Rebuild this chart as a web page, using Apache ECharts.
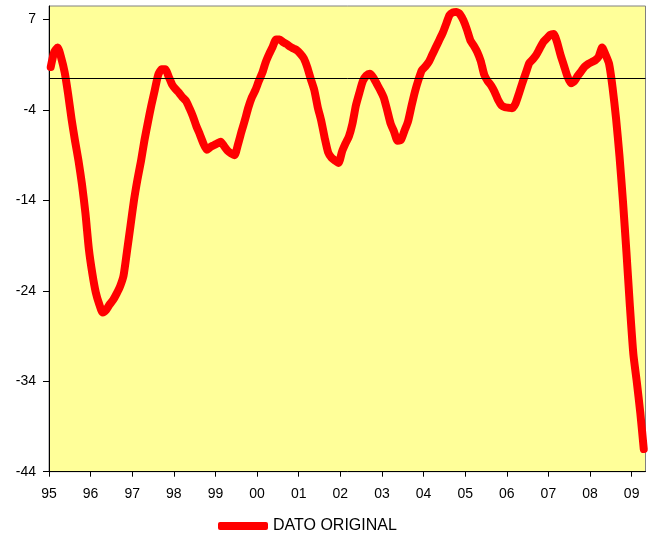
<!DOCTYPE html>
<html>
<head>
<meta charset="utf-8">
<script src="https://cdn.jsdelivr.net/npm/echarts@6/dist/echarts.min.js"></script>
<style>
html,body{margin:0;padding:0;background:#fff;}
#chart{width:657px;height:541px;}
</style>
</head>
<body>
<div id="chart"></div>
<script>
// Monthly values, Jan 1995 .. Apr 2009
const startYear = 1995;
const seriesName = 'DATO ORIGINAL';
const values = [
  1.25, 2.9, 3.4, 2.3, 0.7, -1.7, -4.5, -6.9, -9.1, -11.7, -14.9, -18.9,
  -21.6, -23.7, -25.0, -25.9, -25.6, -25.0, -24.5, -23.8, -23.0, -21.8, -19.1, -16.3,
  -13.5, -11.2, -9.2, -6.9, -4.9, -3.0, -1.3, 0.4, 1.0, 1.0, 0.2, -0.7,
  -1.2, -1.6, -2.1, -2.5, -3.3, -4.2, -5.3, -6.2, -7.2, -7.9, -7.6, -7.4,
  -7.2, -7.0, -7.5, -8.0, -8.3, -8.5, -7.3, -5.9, -4.6, -3.2, -2.1, -1.3,
  -0.3, 0.6, 1.8, 2.7, 3.5, 4.3, 4.3, 4.0, 3.8, 3.5, 3.3, 3.1,
  2.7, 2.2, 1.2, -0.1, -1.3, -3.2, -4.7, -6.6, -8.2, -8.8, -9.1, -9.35,
  -8.1, -7.2, -6.4, -5.0, -3.0, -1.6, -0.3, 0.3, 0.5, 0.1, -0.6, -1.3,
  -2.1, -3.5, -5.0, -5.9, -6.9, -6.8, -5.8, -4.8, -3.1, -1.5, -0.2, 0.9,
  1.3, 1.8, 2.6, 3.4, 4.2, 5.0, 6.0, 7.0, 7.3, 7.35, 7.1, 6.4,
  5.4, 4.2, 3.6, 2.9, 1.9, 0.4, -0.3, -0.8, -1.5, -2.4, -3.0, -3.2,
  -3.25, -3.3, -2.8, -1.7, -0.5, 0.6, 1.7, 2.1, 2.6, 3.3, 4.0, 4.4,
  4.8, 4.9, 4.0, 2.6, 1.4, 0.2, -0.55, -0.3, 0.3, 0.8, 1.3, 1.6,
  1.8, 2.0, 2.4, 3.4, 2.6, 1.6, -1.0, -4.4, -8.6, -13.6, -19.2, -25.2,
  -30.5, -33.6, -37.0, -41.0
];
const xTickLabels = ['95','96','97','98','99','00','01','02','03','04','05','06','07','08','09'];
const yTickValues = [-43.5, -33.5, -23.5, -13.5, -3.5, 6.5];
const yTickLabels = ['-44', '-34', '-24', '-14', '-4', '7'];

const xTickValues = xTickLabels.map((_, k) => k * 12);
const data = values.map((v, i) => [i + 0.5, v]);

const chart = echarts.init(document.getElementById('chart'), null, {renderer: 'canvas'});
const font = 'Liberation Sans, Arial, sans-serif';
chart.setOption({
  animation: false,
  backgroundColor: '#ffffff',
  grid: {
    left: 49, top: 6, right: 11.5, bottom: 69.3,
    show: true, backgroundColor: '#FFFF99', borderColor: '#808080', borderWidth: 1
  },
  legend: {
    show: true,
    left: 213, top: 513,
    icon: 'roundRect',
    itemWidth: 50, itemHeight: 8,
    textStyle: {fontFamily: font, fontSize: 16, color: '#000'},
    data: [{name: seriesName, itemStyle: {color: '#FF0000'}}]
  },
  xAxis: {
    type: 'value', min: 0, max: values.length,
    axisLine: {show: true, onZero: false, lineStyle: {color: '#000', width: 1}},
    axisTick: {show: true, length: 5, customValues: xTickValues, lineStyle: {color: '#000'}},
    axisLabel: {
      show: true, customValues: xTickValues, margin: 15,
      fontFamily: font, fontSize: 14, color: '#000',
      formatter: v => xTickLabels[Math.round(v / 12)]
    },
    splitLine: {show: false}
  },
  yAxis: {
    type: 'value', min: -43.5, max: 8,
    axisLine: {show: true, onZero: false, lineStyle: {color: '#000', width: 1}},
    axisTick: {show: true, length: 6, customValues: yTickValues, lineStyle: {color: '#000'}},
    axisLabel: {
      show: true, customValues: yTickValues, margin: 13,
      fontFamily: font, fontSize: 14, color: '#000',
      formatter: v => {
        const k = yTickValues.findIndex(t => Math.abs(t - v) < 1e-6);
        return k >= 0 ? yTickLabels[k] : '';
      }
    },
    splitLine: {show: false}
  },
  series: [
    {
      name: 'zero', type: 'line', data: [], z: 1, silent: true,
      markLine: {
        silent: true, symbol: 'none', animation: false,
        label: {show: false},
        lineStyle: {color: '#000', width: 1, type: 'solid'},
        data: [{yAxis: 0}]
      }
    },
    {
      name: seriesName, type: 'line', data: data, z: 3,
      showSymbol: false, symbol: 'none', smooth: 0.2,
      lineStyle: {color: '#FF0000', width: 8, cap: 'round', join: 'round'},
      itemStyle: {color: '#FF0000'}
    }
  ]
});
</script>
</body>
</html>
